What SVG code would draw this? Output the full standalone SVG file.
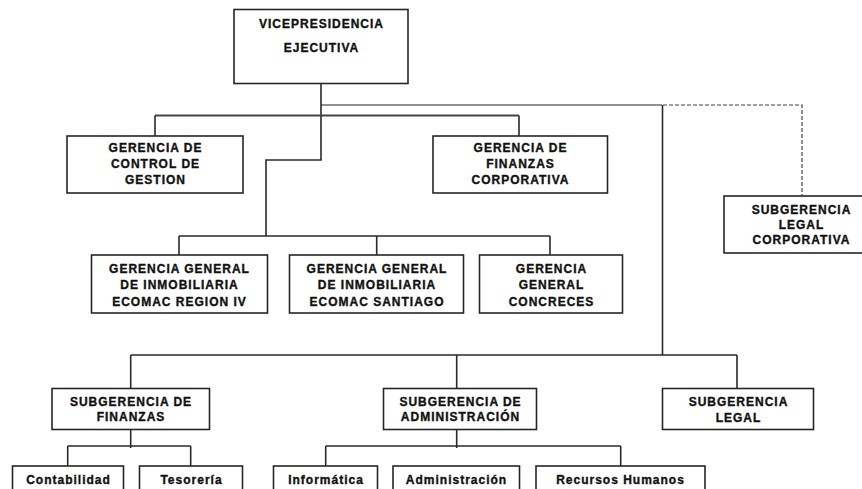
<svg xmlns="http://www.w3.org/2000/svg" width="862" height="489" viewBox="0 0 862 489">
<style>
.box{fill:#fff;stroke:#262626;stroke-width:1.6}
.t{font-family:"Liberation Sans",Arial,sans-serif;font-weight:bold;font-size:12px;letter-spacing:1px;fill:#111;stroke:#111;stroke-width:0.35;text-anchor:middle}
.c{fill:none;stroke:#2a2a2a;stroke-width:1.6}
.thin{fill:none;stroke:#222;stroke-width:1}
.gray{fill:none;stroke:#444;stroke-width:2}
.dash{fill:none;stroke:#444;stroke-width:1.2;stroke-dasharray:4 2}
</style>
<rect width="862" height="489" fill="#fff"/>
<g id="connectors">
<path class="c" d="M321 83V160H266V236"/>
<path class="thin" d="M321 105H662"/>
<path class="gray" d="M155 115.5H519"/>
<path class="c" d="M155 115.5V136M519 115.5V136"/>
<path class="c" d="M179 236H550M179 236V255M376.7 236V255M550 236V255"/>
<path class="c" d="M662.5 105V355"/>
<path class="c" d="M130.7 355H737M130.7 355V388M456.7 355V388M737 355V388"/>
<path class="dash" d="M663 105H802V196"/>
<path class="c" d="M130.7 429V448M67.7 446H190.7M67.7 446V466M190.7 446V466"/>
<path class="c" d="M456.7 429V448M325.7 446H620.7M325.7 446V466M620.7 446V466"/>
</g>
<g id="vp"><rect class="box" x="234" y="9.5" width="174" height="74"/>
<text class="t" x="321.5" y="28">VICEPRESIDENCIA</text><text class="t" x="321.5" y="52">EJECUTIVA</text></g>
<g id="control"><rect class="box" x="67" y="136" width="176" height="57"/>
<text class="t" x="155.5" y="152">GERENCIA DE</text><text class="t" x="155.5" y="167.5">CONTROL DE</text><text class="t" x="155.5" y="183.5">GESTION</text></g>
<g id="finanzas-corp"><rect class="box" x="433" y="136" width="174.5" height="57"/>
<text class="t" x="520.5" y="152">GERENCIA DE</text><text class="t" x="520.5" y="167.5">FINANZAS</text><text class="t" x="520.5" y="183.5">CORPORATIVA</text></g>
<g id="legal-corp"><rect class="box" x="724" y="196" width="160" height="57"/>
<text class="t" x="801.5" y="213.5">SUBGERENCIA</text><text class="t" x="801.5" y="228.5">LEGAL</text><text class="t" x="801.5" y="244">CORPORATIVA</text></g>
<g id="gg-region"><rect class="box" x="91.5" y="255" width="176" height="58"/>
<text class="t" x="179.5" y="272.5">GERENCIA GENERAL</text><text class="t" x="179.5" y="289">DE INMOBILIARIA</text><text class="t" x="179.5" y="305.5">ECOMAC REGION IV</text></g>
<g id="gg-santiago"><rect class="box" x="289.5" y="255" width="174" height="58"/>
<text class="t" x="377" y="272.5">GERENCIA GENERAL</text><text class="t" x="377" y="289">DE INMOBILIARIA</text><text class="t" x="377" y="305.5">ECOMAC SANTIAGO</text></g>
<g id="gg-concreces"><rect class="box" x="479.5" y="255" width="143" height="58"/>
<text class="t" x="551.5" y="272.5">GERENCIA</text><text class="t" x="551.5" y="289">GENERAL</text><text class="t" x="551.5" y="305.5">CONCRECES</text></g>
<g id="sub-finanzas"><rect class="box" x="52" y="388.5" width="157.5" height="41"/>
<text class="t" x="131" y="406">SUBGERENCIA DE</text><text class="t" x="131" y="421">FINANZAS</text></g>
<g id="sub-admin"><rect class="box" x="383.5" y="388.5" width="153" height="41"/>
<text class="t" x="460.5" y="406">SUBGERENCIA DE</text><text class="t" x="460.5" y="421">ADMINISTRACIÓN</text></g>
<g id="sub-legal"><rect class="box" x="662.5" y="388.5" width="151" height="41"/>
<text class="t" x="738.5" y="406">SUBGERENCIA</text><text class="t" x="738.5" y="421.5">LEGAL</text></g>
<g id="contabilidad"><rect class="box" x="12.5" y="466" width="111" height="40"/>
<text class="t" x="68.5" y="484">Contabilidad</text></g>
<g id="tesoreria"><rect class="box" x="139.5" y="466" width="103" height="40"/>
<text class="t" x="191.5" y="484">Tesorería</text></g>
<g id="informatica"><rect class="box" x="273.5" y="466" width="104" height="40"/>
<text class="t" x="326" y="484">Informática</text></g>
<g id="administracion"><rect class="box" x="393" y="466" width="126.5" height="40"/>
<text class="t" x="456.5" y="484">Administración</text></g>
<g id="rrhh"><rect class="box" x="536" y="466" width="169" height="40"/>
<text class="t" x="620.5" y="484">Recursos Humanos</text></g>
</svg>
